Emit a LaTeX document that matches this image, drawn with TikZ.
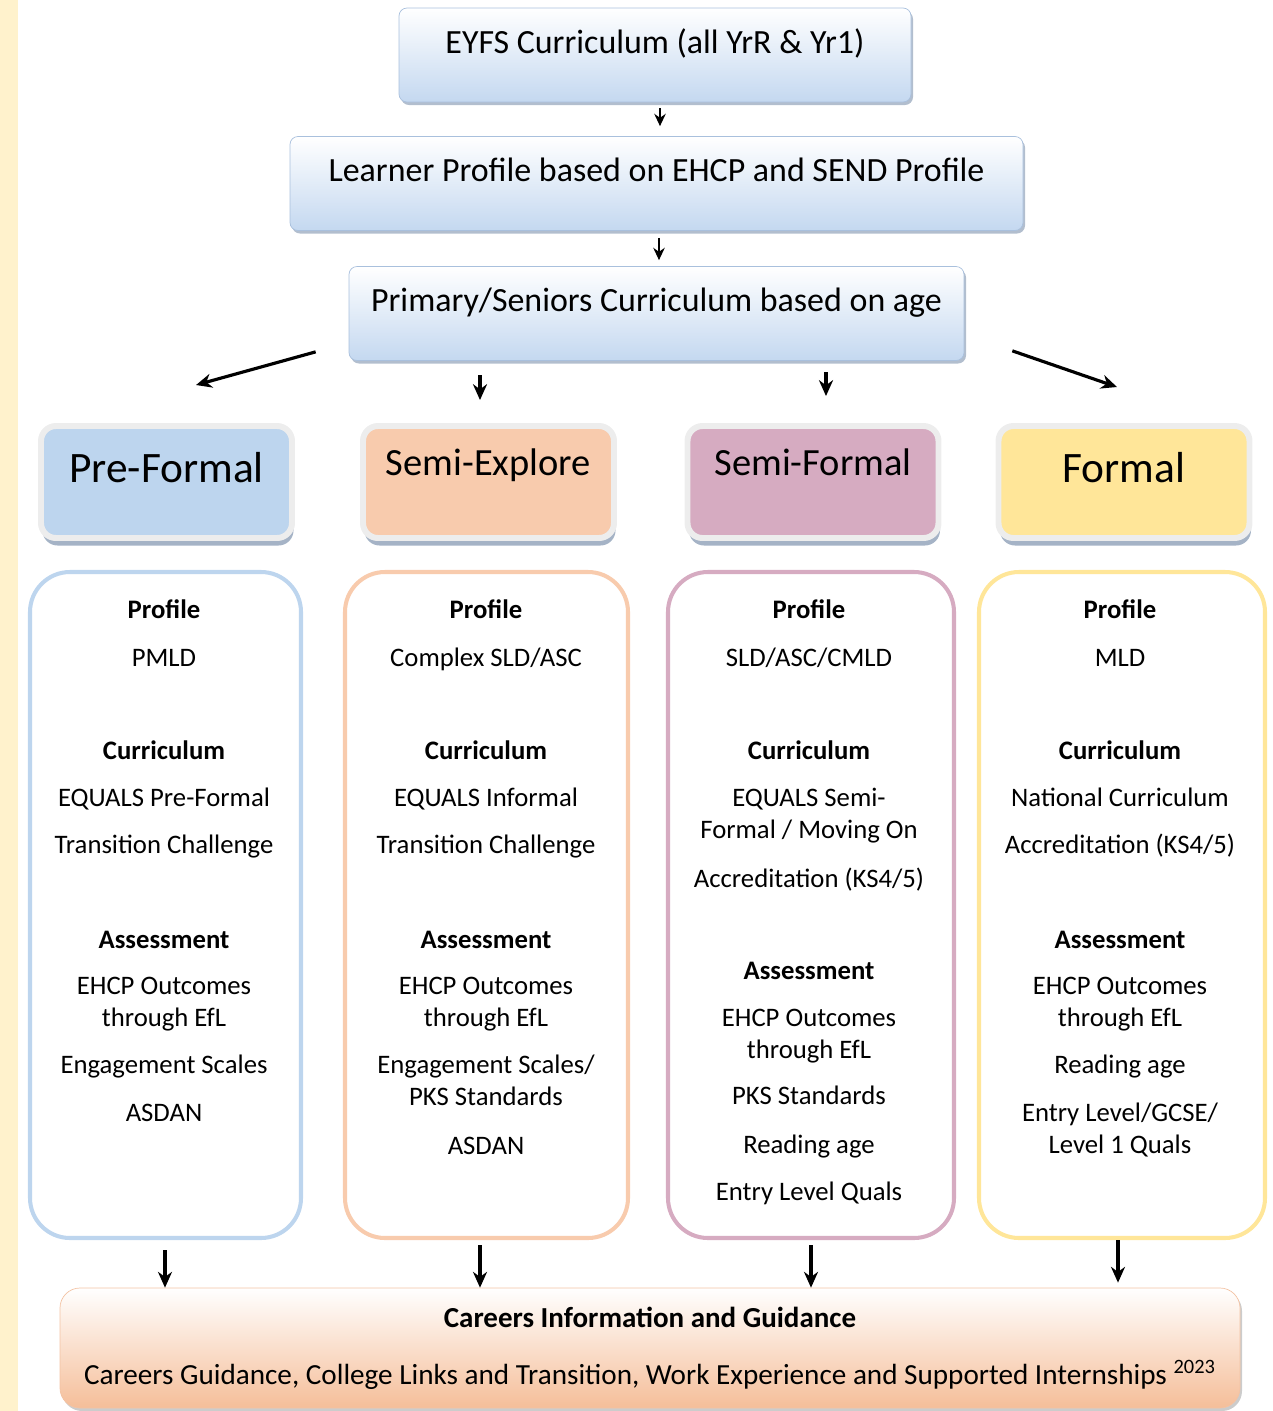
\documentclass[tikz,border=0pt]{standalone}
\usepackage{fontspec}
\setmainfont{Carlito}
\usetikzlibrary{arrows.meta,shadows}

\definecolor{stripcol}{HTML}{FFF2CC}
\definecolor{topblue}{HTML}{C4D8F0}
\definecolor{topedge}{HTML}{A9C0DD}
\definecolor{pfcol}{HTML}{BDD5EE}
\definecolor{secol}{HTML}{F8CBAD}
\definecolor{sfcol}{HTML}{D6ABC1}
\definecolor{fmcol}{HTML}{FFE699}
\definecolor{carcol}{HTML}{F5BE99}
\definecolor{caredge}{HTML}{F3C3A4}
\definecolor{shadecol}{HTML}{7F93AE}

\tikzset{
  topbox/.style={draw=topedge, rounded corners=0.16cm, top color=white, bottom color=topblue,
    inner sep=0pt, text height=0.9cm, text depth=0.98cm, font=\fontsize{19.3}{22}\selectfont,
    drop shadow={shadow xshift=0.04cm, shadow yshift=-0.06cm, fill=shadecol, opacity=0.6}},
  catbox/.style={draw=white!93!black, line width=3.4pt, rounded corners=0.3cm,
    minimum width=5.02cm, inner sep=0pt, text height=1.12cm, text depth=1.12cm,
    font=\fontsize{24.7}{28}\selectfont,
    drop shadow={shadow xshift=0.03cm, shadow yshift=-0.15cm, fill=shadecol, opacity=0.7}},
  semicat/.style={catbox, text height=0.98cm, text depth=1.26cm, font=\fontsize{21.9}{26}\selectfont},
  infobox/.style={line width=2.3pt, rounded corners=0.8cm, fill=white, minimum width=5.42cm,
    minimum height=13.32cm},
  infotext/.style={anchor=north, align=center, inner sep=0pt, font=\fontsize{15.2}{18.1}\selectfont},
  careers/.style={draw=caredge, top color=white, bottom color=carcol, rounded corners=0.4cm,
    minimum width=23.6cm, minimum height=2.4cm, align=center, font=\fontsize{16.6}{18}\selectfont,
    drop shadow={shadow xshift=0.04cm, shadow yshift=-0.06cm, fill=black!50, opacity=0.4}},
  arr/.style={-{Stealth[length=9pt,width=8pt]}, line width=1.8pt},
  smallarr/.style={-{Stealth[length=7pt,width=6.5pt]}, line width=1.4pt}
}

\begin{document}
\begin{tikzpicture}
  \useasboundingbox (0,0) rectangle (25.46,-28.22);
  \fill[stripcol] (0,0) rectangle (0.36,-28.22);

  % top chain
  \node[topbox, minimum width=10.24cm] (eyfs) at (13.10,-1.10) {EYFS Curriculum (all YrR \& Yr1)};
  \node[topbox, minimum width=14.66cm] (learner) at (13.13,-3.67) {Learner Profile based on EHCP and SEND Profile};
  \node[topbox, minimum width=12.30cm] (primary) at (13.13,-6.27) {Primary/Seniors Curriculum based on age};
  \draw[smallarr] ([xshift=0.1cm,yshift=-0.12cm]eyfs.south) -- ([xshift=0.07cm,yshift=0.2cm]learner.north);
  \draw[smallarr] ([xshift=0.05cm,yshift=-0.14cm]learner.south) -- ([xshift=0.05cm,yshift=0.12cm]primary.north);

  % pathways
  \node[catbox, fill=pfcol] (pre) at (3.33,-9.64) {Pre-Formal};
  \node[semicat, fill=secol] (sexp) at (9.77,-9.64) {Semi-Explore};
  \node[semicat, fill=sfcol] (sform) at (16.26,-9.64) {Semi-Formal};
  \node[catbox, fill=fmcol] (formal) at (22.48,-9.64) {Formal};
  \draw[arr] ([xshift=-0.66cm,yshift=0.18cm]primary.south west) -- ([xshift=0.59cm,yshift=0.76cm]pre.north);
  \draw[arr] ([xshift=-0.17cm,yshift=0.96cm]sexp.north) -- ([xshift=-0.17cm,yshift=0.46cm]sexp.north);
  \draw[arr] ([xshift=0.26cm,yshift=1.02cm]sform.north) -- ([xshift=0.26cm,yshift=0.54cm]sform.north);
  \draw[arr] ([xshift=0.96cm,yshift=0.2cm]primary.south east) -- ([xshift=-0.14cm,yshift=0.72cm]formal.north);

  % details
  \node[infobox, draw=pfcol] (pfbox) at (3.31,-18.10) {};
  \node[infobox, draw=secol, minimum width=5.66cm] (sebox) at (9.73,-18.10) {};
  \node[infobox, draw=sfcol, minimum width=5.72cm] (sfbox) at (16.22,-18.10) {};
  \node[infobox, draw=fmcol, minimum width=5.72cm] (fmbox) at (22.44,-18.10) {};

  \node[infotext] (pftext) at (3.28,-11.98) {\textbf{Profile}\\[0.34cm] PMLD\\[1.22cm]
    \textbf{Curriculum}\\[0.3cm] EQUALS Pre-Formal\\[0.3cm] Transition Challenge\\[1.26cm]
    \textbf{Assessment}\\[0.3cm] EHCP Outcomes\\ through EfL\\[0.3cm] Engagement Scales\\[0.32cm] ASDAN};
  \node[infotext] (setext) at (9.72,-11.98) {\textbf{Profile}\\[0.34cm] Complex SLD/ASC\\[1.22cm]
    \textbf{Curriculum}\\[0.3cm] EQUALS Informal\\[0.3cm] Transition Challenge\\[1.26cm]
    \textbf{Assessment}\\[0.3cm] EHCP Outcomes\\ through EfL\\[0.3cm] Engagement Scales/\\ PKS Standards\\[0.34cm] ASDAN};
  \node[infotext] (sftext) at (16.18,-11.98) {\textbf{Profile}\\[0.34cm] SLD/ASC/CMLD\\[1.22cm]
    \textbf{Curriculum}\\[0.3cm] EQUALS Semi-\\ Formal / Moving On\\[0.34cm] Accreditation (KS4/5)\\[1.22cm]
    \textbf{Assessment}\\[0.3cm] EHCP Outcomes\\ through EfL\\[0.28cm] PKS Standards\\[0.34cm] Reading age\\[0.3cm] Entry Level Quals};
  \node[infotext] (fmtext) at (22.40,-11.98) {\textbf{Profile}\\[0.34cm] MLD\\[1.22cm]
    \textbf{Curriculum}\\[0.3cm] National Curriculum\\[0.3cm] Accreditation (KS4/5)\\[1.26cm]
    \textbf{Assessment}\\[0.3cm] EHCP Outcomes\\ through EfL\\[0.3cm] Reading age\\[0.32cm] Entry Level/GCSE/\\ Level 1 Quals};

  % careers
  \node[careers] (careers) at (13.0,-26.96) {{\fontsize{16.5}{18}\selectfont\textbf{Careers Information and Guidance}}\\[0.5cm]
    Careers Guidance, College Links and Transition, Work Experience and Supported Internships \textsuperscript{2023}};
  \draw[arr] ([xshift=-0.01cm,yshift=-0.2cm]pfbox.south) -- ([xshift=-0.01cm]pfbox.south |- careers.north);
  \draw[arr] ([xshift=-0.13cm,yshift=-0.1cm]sebox.south) -- ([xshift=-0.13cm]sebox.south |- careers.north);
  \draw[arr] ([yshift=-0.1cm]sfbox.south) -- (sfbox.south |- careers.north);
  \draw[arr] ([xshift=-0.08cm,yshift=0cm]fmbox.south) -- ([xshift=-0.08cm,yshift=0.1cm]fmbox.south |- careers.north);
\end{tikzpicture}
\end{document}
